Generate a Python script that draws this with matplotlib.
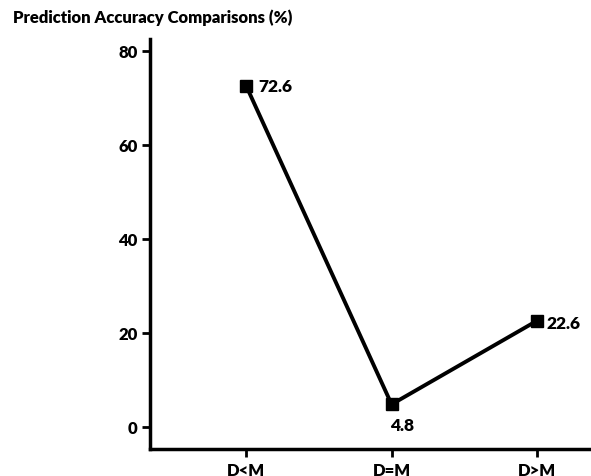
import matplotlib.pyplot as plt

# Data
categories = ['D<M', 'D=M', 'D>M']
accuracy = [72.6, 4.8, 22.6]
yticks = [0, 20, 40, 60, 80]

plt.rcParams['font.family'] = ['Lato', 'DejaVu Sans']
plt.rcParams['font.weight'] = 'heavy'

fig = plt.figure(figsize=(5.91, 4.77), dpi=100)
ax = fig.add_axes([0.2538, 0.0566, 0.7462, 0.8594])

x = range(len(categories))
ax.plot(x, accuracy, color='black', linewidth=2.8, marker='s', markersize=9)

# value labels
offsets = [(9, 0, 'left', 'center'), (-1, -9, 'left', 'top'), (7, -2, 'left', 'center')]
for i, v in enumerate(accuracy):
    dx, dy, ha, va = offsets[i]
    ax.annotate(f'{v}', (i, v), xytext=(dx, dy), textcoords='offset points',
                ha=ha, va=va, fontsize=12.5, fontweight='heavy')

ax.set_xlim(-0.66, 2.37)
ax.set_ylim(-4.7, 82.5)
ax.set_xticks(list(x))
ax.set_xticklabels(categories)
ax.set_yticks(yticks)

for side in ['top', 'right']:
    ax.spines[side].set_visible(False)
for side in ['left', 'bottom']:
    ax.spines[side].set_linewidth(2.5)
ax.tick_params(axis='both', direction='out', length=6, width=2, labelsize=12, pad=3)
for lbl in ax.get_xticklabels() + ax.get_yticklabels():
    lbl.set_fontweight('heavy')

fig.text(0.022, 0.962, 'Prediction Accuracy Comparisons (%)', fontsize=12,
         fontweight='heavy', ha='left', va='center')

fig.savefig('out.png', dpi=100)
